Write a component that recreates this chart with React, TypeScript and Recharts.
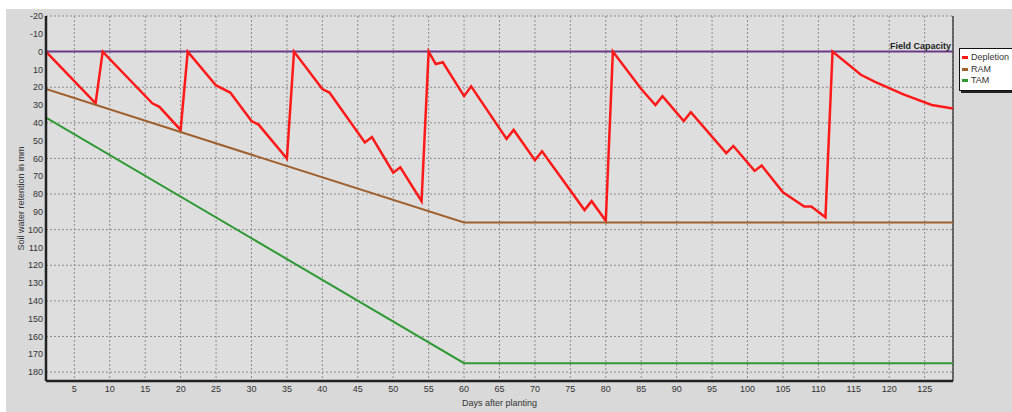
import {
  LineChart,
  Line,
  XAxis,
  YAxis,
  CartesianGrid,
  ReferenceLine,
  Legend,
} from "recharts";

// Depletion readings (day, mm) taken at the corners of the trace
const depletionDays = [
  1, 8, 9, 16, 17, 20, 21, 25, 27, 30, 31, 35, 36, 40, 41, 46, 47, 50, 51, 54,
  55, 56, 57, 60, 61, 66, 67, 70, 71, 77, 78, 80, 81, 85, 87, 88, 91, 92, 97,
  98, 101, 102, 105, 108, 109, 111, 112, 116, 118, 122, 126, 129,
];
const depletionValues = [
  0, 29, 0, 29, 31, 44, 0, 19, 23, 39, 41, 60, 0, 21, 23, 51, 48, 68, 65, 84,
  0, 7, 6, 25, 19.5, 49, 44, 61, 56, 89, 84, 95, 0, 21, 30, 25, 39, 34, 57, 53,
  67, 64, 79, 87, 87, 93, 0, 13, 17, 24, 30, 32,
];

// readily / total available moisture
const ramDays = [1, 60, 129];
const ramValues = [21, 96, 96];
const tamDays = [1, 60, 129];
const tamValues = [37, 175, 175];

const xTicks = [5, 10, 15, 20, 25, 30, 35, 40, 45, 50, 55, 60, 65, 70, 75, 80, 85, 90, 95, 100, 105, 110, 115, 120, 125];
const yTicks = [-20, -10, 0, 10, 20, 30, 40, 50, 60, 70, 80, 90, 100, 110, 120, 130, 140, 150, 160, 170, 180];

const toPoints = (days: number[], values: number[]) =>
  days.map((d, i) => ({ day: d, value: values[i] }));

const SERIES = [
  { name: "Depletion", color: "#ff1a1a", width: 2.5, data: toPoints(depletionDays, depletionValues) },
  { name: "RAM", color: "#a0602e", width: 2, data: toPoints(ramDays, ramValues) },
  { name: "TAM", color: "#2f9a35", width: 2, data: toPoints(tamDays, tamValues) },
];

const FONT = "'Liberation Sans', Arial, sans-serif";

function LegendBox() {
  return (
    <div
      style={{
        width: 50,
        background: "#fff",
        border: "1px solid #111",
        boxShadow: "2px 2px 0 #222",
        padding: "3px 0 3px 2px",
        fontFamily: FONT,
        fontSize: 9,
        color: "#333",
        lineHeight: "11.5px",
      }}
    >
      {SERIES.map((s) => (
        <div key={s.name} style={{ display: "flex", alignItems: "center" }}>
          <span style={{ width: 6, height: 3, background: s.color, marginRight: 3 }} />
          {s.name}
        </div>
      ))}
    </div>
  );
}

function FieldCapacityLabel(props: any) {
  const vb = props.viewBox || {};
  return (
    <text
      x={vb.x + vb.width - 2}
      y={vb.y - 3}
      textAnchor="end"
      fontFamily={FONT}
      fontSize={9}
      fontWeight="bold"
      fill="#222"
    >
      Field Capacity
    </text>
  );
}

export default function App() {
  return (
    <div style={{ position: "absolute", left: 0, top: 0, width: 1012, height: 412, background: "#fff" }}>
      <div style={{ position: "absolute", left: 6, top: 9, right: 0, bottom: 0, background: "#d9d9d9" }} />
      <div style={{ position: "absolute", left: 0, top: 0 }}>
        <LineChart width={1012} height={412} margin={{ top: 16, right: 59, bottom: 0, left: 0 }}>
          <CartesianGrid stroke="#8c8c8c" strokeDasharray="2 2" fill="#dedede" />
          <XAxis
            type="number"
            dataKey="day"
            domain={[1, 129]}
            ticks={xTicks}
            allowDataOverflow
            height={31}
            tickLine={false}
            tickSize={0}
            tickMargin={5}
            axisLine={{ stroke: "#222", strokeWidth: 2.5 }}
            tick={{ fontSize: 9, fill: "#333", fontFamily: FONT }}
            label={{ value: "Days after planting", position: "insideBottom", offset: 6, style: { fontSize: 9, fill: "#333", fontFamily: FONT } }}
          />
          <YAxis
            type="number"
            reversed
            domain={[-20, 185]}
            ticks={yTicks}
            allowDataOverflow
            width={46}
            tickLine={false}
            tickSize={0}
            tickMargin={3}
            axisLine={{ stroke: "#222", strokeWidth: 2.5 }}
            tick={{ fontSize: 9, fill: "#333", fontFamily: FONT }}
            label={{
              value: "Soil water retention in mm",
              angle: -90,
              position: "insideLeft",
              offset: 21,
              style: { textAnchor: "middle", fontSize: 9, fill: "#333", fontFamily: FONT },
            }}
          />
          <ReferenceLine x={129} stroke="#444" strokeWidth={1.5} />
          <ReferenceLine y={0} stroke="#6b3a87" strokeWidth={2} label={<FieldCapacityLabel />} />
          <Legend
            layout="vertical"
            verticalAlign="middle"
            align="center"
            content={() => <LegendBox />}
            wrapperStyle={{ left: 959, top: 48, width: 52 }}
          />
          {SERIES.map((s) => (
            <Line
              key={s.name}
              name={s.name}
              data={s.data}
              dataKey="value"
              type="linear"
              stroke={s.color}
              strokeWidth={s.width}
              dot={false}
              activeDot={false}
              isAnimationActive={false}
            />
          ))}
        </LineChart>
      </div>
    </div>
  );
}
